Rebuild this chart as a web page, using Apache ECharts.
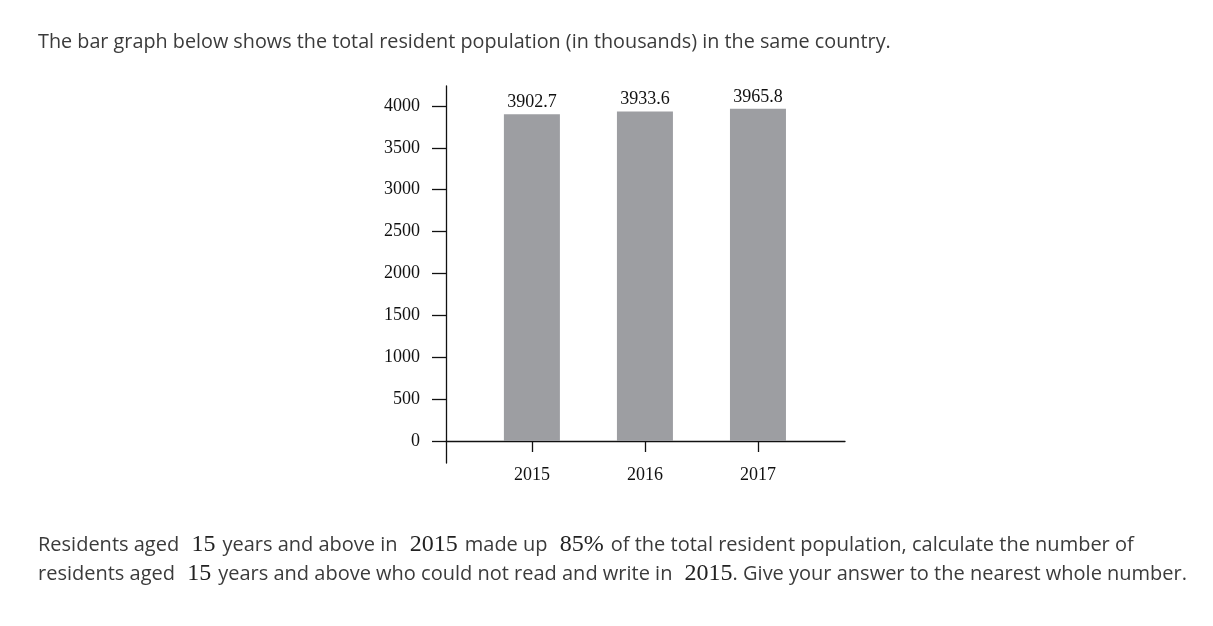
<!DOCTYPE html>
<html>
<head>
<meta charset="utf-8">
<title>Total resident population</title>
<script src="https://cdn.jsdelivr.net/npm/echarts@6/dist/echarts.min.js"></script>
<style>
  html, body { margin: 0; padding: 0; background: #fff; }
  #chart { width: 1213px; height: 626px; }
</style>
</head>
<body>
<div id="chart"></div>
<script>
// data
var years = [2015, 2016, 2017]
var population = [3902.7, 3933.6, 3965.8]
var yTicks = [0, 500, 1000, 1500, 2000, 2500, 3000, 3500, 4000]

var sans = '"Open Sans", "Noto Sans", sans-serif'
var serif = '"Liberation Serif", "DejaVu Serif", serif'
var textColor = '#3b3b3b'

var mathRich = {
  t: { fontFamily: sans, fontSize: 20, fontWeight: 'normal', color: textColor },
  m: { fontFamily: serif, fontSize: 24, fontWeight: 'normal', color: '#222', padding: [0, 7, 0, 7] },
  n: { fontFamily: serif, fontSize: 24, fontWeight: 'normal', color: '#222', padding: [0, 0, 0, 7] }
}

var chart = echarts.init(document.getElementById('chart'))

var option = {
  animation: false,
  title: [
    {
      text: 'The bar graph below shows the total resident population (in thousands) in the same country.',
      left: 38, top: 32, padding: 0,
      textStyle: { fontFamily: sans, fontSize: 19.8, fontWeight: 'normal', color: textColor }
    },
    {
      text: '{t|Residents aged }{m|15}{t|years and above in }{m|2015}{t|made up }{m|85%}{t|of the total resident population, calculate the number of}',
      left: 38, top: 533, padding: 0,
      textStyle: { fontWeight: 'normal', rich: mathRich }
    },
    {
      text: '{t|residents aged }{m|15}{t|years and above who could not read and write in }{n|2015}{t|. Give your answer to the nearest whole number.}',
      left: 38, top: 562, padding: 0,
      textStyle: { fontWeight: 'normal', rich: mathRich }
    }
  ],
  grid: { left: 446, right: 368, top: 86, bottom: 163 },
  xAxis: {
    type: 'value',
    min: 2014.24,
    max: 2017.77,
    splitLine: { show: false },
    axisLine: { show: true, onZero: true, lineStyle: { color: '#111', width: 1.3 } },
    axisTick: { show: true, length: 11, customValues: years, lineStyle: { color: '#111', width: 1.3 } },
    axisLabel: {
      customValues: years,
      margin: 3,
      fontFamily: serif, fontSize: 18, color: '#111',
      formatter: function (v) { return String(v) }
    }
  },
  yAxis: {
    type: 'value',
    min: -262.7,
    max: 4238.8,
    splitLine: { show: false },
    axisLine: { show: true, onZero: false, lineStyle: { color: '#111', width: 1.3 } },
    axisTick: { show: true, length: 14, customValues: yTicks, lineStyle: { color: '#111', width: 1.3 } },
    axisLabel: {
      customValues: yTicks,
      margin: 26,
      fontFamily: serif, fontSize: 18, color: '#111',
      formatter: function (v) { return String(v) }
    }
  },
  series: [
    {
      name: 'Population',
      type: 'bar',
      barWidth: 56,
      itemStyle: { color: '#9d9ea2' },
      label: {
        show: true,
        position: 'top',
        distance: 3,
        fontFamily: serif, fontSize: 18, color: '#111',
        formatter: function (p) { return p.value[1].toFixed(1) }
      },
      data: years.map(function (y, i) { return [y, population[i]] })
    }
  ]
}

chart.setOption(option)
</script>
</body>
</html>
